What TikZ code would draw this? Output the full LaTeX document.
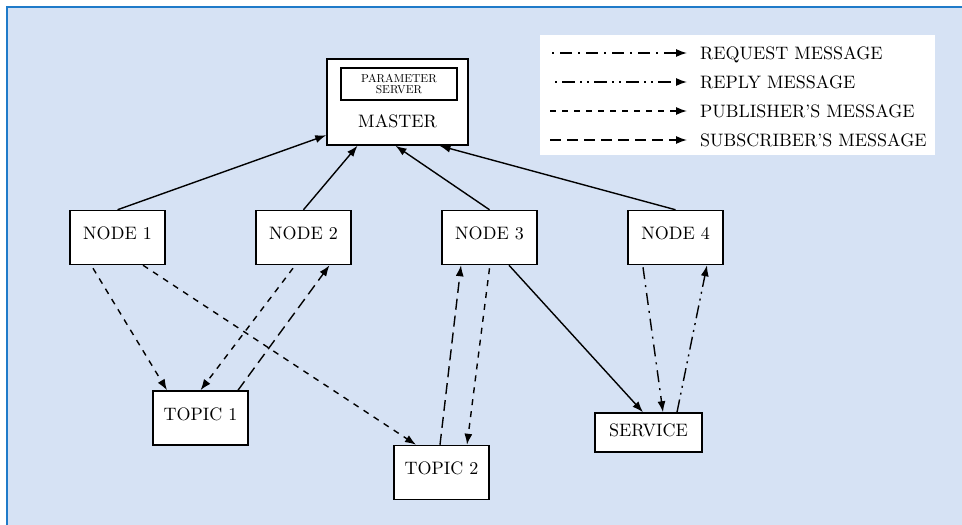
\documentclass[tikz,border=0pt]{standalone}
\usepackage{fontspec}
\setmainfont{lmroman10-regular}[Extension=.otf]
\usetikzlibrary{arrows.meta}
\definecolor{bgfill}{HTML}{D6E2F4}
\definecolor{frameblue}{HTML}{1F7BC9}
\tikzset{
  unitbox/.style={draw, fill=white, line width=1.5pt, inner sep=0pt,
    font=\fontsize{18}{20}\selectfont, text height=12pt, text depth=8pt},
  conn/.style={line width=1.4pt, -{Latex[length=11pt,width=8pt]}},
  pubmsg/.style={conn, dash pattern=on 6pt off 6pt},
  submsg/.style={conn, dash pattern=on 11pt off 6pt},
  reqmsg/.style={conn, dash pattern=on 12pt off 6pt on 2pt off 6pt},
  repmsg/.style={conn, dash pattern=on 13pt off 5pt on 2pt off 5pt on 2pt off 5pt},
  legtext/.style={anchor=west, inner sep=0pt, font=\fontsize{18}{20}\selectfont,
    text height=12pt, text depth=0pt}
}
\begin{document}
\begin{tikzpicture}[x=1pt,y=-1pt]
\useasboundingbox (0,0) rectangle (962,525);
% background panel
\fill[bgfill] (7,7) rectangle (962,525);
\draw[frameblue, line width=2pt] (7,525) -- (7,7) -- (962,7);

% master with its parameter server
\node[unitbox, minimum width=141pt, minimum height=86pt] (master) at (397.5,102) {};
\node[draw, line width=1.5pt, minimum width=116pt, minimum height=32pt, inner sep=0pt,
  align=center, font=\fontsize{11.5}{11.5}\selectfont] (param) at (399,84) {PARAMETER\\SERVER};
\node[inner sep=0pt, font=\fontsize{18}{20}\selectfont] (mlabel) at (397.5,121) {MASTER};

% nodes
\node[unitbox, minimum width=95pt, minimum height=54pt] (n1) at (117.5,237.5) {NODE 1};
\node[unitbox, minimum width=95pt, minimum height=54pt] (n2) at (303.5,237.5) {NODE 2};
\node[unitbox, minimum width=95pt, minimum height=54pt] (n3) at (489.5,237.5) {NODE 3};
\node[unitbox, minimum width=95pt, minimum height=54pt] (n4) at (675.5,237.5) {NODE 4};

% topics and service
\node[unitbox, minimum width=95pt, minimum height=54pt] (t1) at (200.5,418) {TOPIC 1};
\node[unitbox, minimum width=95pt, minimum height=54pt] (t2) at (441.5,472.5) {TOPIC 2};
\node[unitbox, minimum width=107pt, minimum height=39pt, text depth=5pt] (srv) at (648.5,432.5) {SERVICE};

% registration with the master
\draw[conn] (n1.north) -- (master.205);
\draw[conn] (n2.north) -- ([xshift=-40pt]master.south);
\draw[conn] (n3.north) -- ([xshift=-2pt]master.south);
\draw[conn] (n4.north) -- ([xshift=42pt]master.south);

% topic traffic
\draw[pubmsg] ([xshift=-24.5pt,yshift=-3pt]n1.south) -- ([xshift=-33.5pt]t1.north);
\draw[pubmsg] ([xshift=25.5pt]n1.south) -- ([xshift=-25.5pt]t2.north);
\draw[pubmsg] ([xshift=-10.5pt,yshift=-3pt]n2.south) -- (t1.north);
\draw[submsg] ([xshift=37.5pt]t1.north) -- ([xshift=26pt]n2.south);
\draw[submsg] ([xshift=-1.5pt]t2.north) -- ([xshift=-28.5pt]n3.south);
\draw[pubmsg] ([yshift=-3pt]n3.south) -- ([xshift=25.5pt]t2.north);

% service traffic
\draw[conn] ([xshift=19.5pt]n3.south) -- ([xshift=-5.5pt]srv.north);
\draw[reqmsg] ([xshift=-32.5pt,yshift=-2pt]n4.south) -- ([xshift=14.5pt]srv.north);
\draw[repmsg] ([xshift=28.5pt]srv.north) -- ([xshift=31.5pt]n4.south);

% legend
\node[fill=white, minimum width=395pt, minimum height=120pt, inner sep=0pt] (legend) at (737.5,95) {};
\coordinate (la1) at (550,53); \coordinate (lb1) at (687,53);
\coordinate (la2) at (550,82); \coordinate (lb2) at (687,82);
\coordinate (la3) at (550,111); \coordinate (lb3) at (687,111);
\coordinate (la4) at (550,140); \coordinate (lb4) at (687,140);
\draw[reqmsg, dash phase=16pt] (la1) -- (lb1);
\draw[repmsg, dash phase=20pt] (la2) -- (lb2);
\draw[pubmsg] (la3) -- (lb3);
\draw[submsg] (la4) -- (lb4);
\node[legtext] (l1) at (700,53) {REQUEST MESSAGE};
\node[legtext] (l2) at (700,82) {REPLY MESSAGE};
\node[legtext] (l3) at (700,111) {PUBLISHER'S MESSAGE};
\node[legtext] (l4) at (700,140) {SUBSCRIBER'S MESSAGE};
\end{tikzpicture}
\end{document}
